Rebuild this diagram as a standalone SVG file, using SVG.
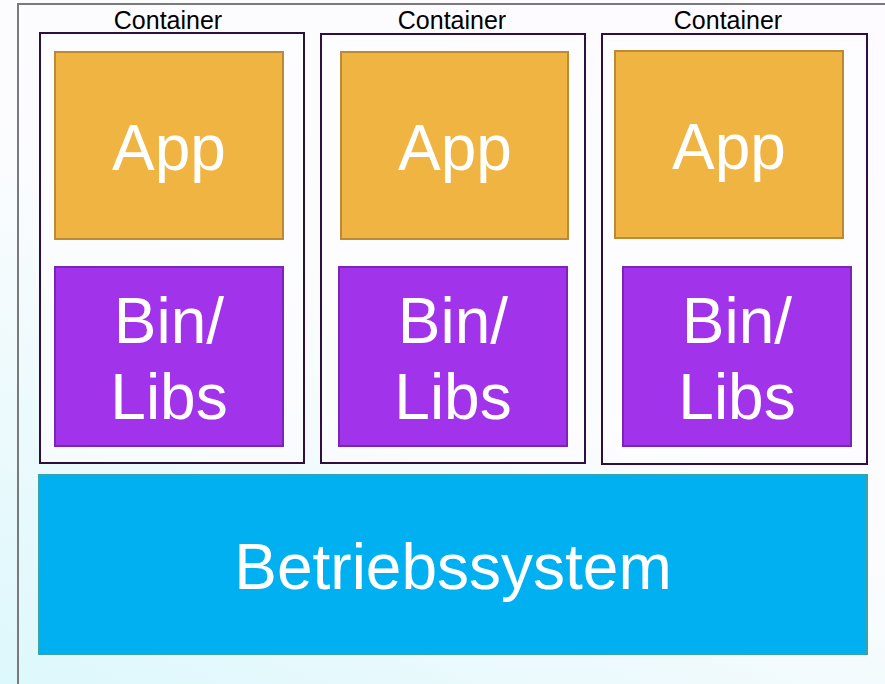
<svg xmlns="http://www.w3.org/2000/svg" width="885" height="684" viewBox="0 0 885 684">
<defs>
<linearGradient id="bg" x1="0" y1="1" x2="0.6" y2="0">
<stop offset="0" stop-color="#ddf8fc"/>
<stop offset="0.6" stop-color="#fcfcfe"/>
<stop offset="1" stop-color="#fdfbff"/>
</linearGradient>
</defs>
<style>
.cont{fill:#fefeff;fill-opacity:0.6;stroke:#2e0f3d;stroke-width:2}
.app{fill:#efb441;stroke:#bb8a32;stroke-width:2}
.bin{fill:#a133ea;stroke:#7a25b5;stroke-width:2}
.os{fill:#00b0f0;stroke:#3aa3a8;stroke-width:2}
.lbl{font-family:"Liberation Sans",Arial,sans-serif;fill:#000;font-size:25px;text-anchor:middle}
.big{font-family:"Liberation Sans",Arial,sans-serif;fill:#fff;font-size:64px;text-anchor:middle}
</style>
<rect x="0" y="0" width="885" height="684" fill="url(#bg)"/>
<rect x="18" y="4" width="880" height="700" fill="none" stroke="#7a7a7a" stroke-width="2"/>
<g id="container1">
<text class="lbl" x="168" y="29">Container</text>
<rect class="cont" x="40" y="33" width="264" height="430"/>
<g id="app1"><rect class="app" x="55" y="52" width="228" height="187"/><text class="big" x="169" y="170">App</text></g>
<g id="bin1"><rect class="bin" x="55" y="267" width="228" height="179"/><text class="big" x="169" y="343">Bin/</text><text class="big" x="169" y="419">Libs</text></g>
</g>
<g id="container2">
<text class="lbl" x="452" y="29">Container</text>
<rect class="cont" x="321" y="34" width="264" height="429"/>
<g id="app2"><rect class="app" x="341" y="52" width="227" height="187"/><text class="big" x="455" y="170">App</text></g>
<g id="bin2"><rect class="bin" x="339" y="267" width="228" height="179"/><text class="big" x="453" y="343">Bin/</text><text class="big" x="453" y="419">Libs</text></g>
</g>
<g id="container3">
<text class="lbl" x="728" y="29">Container</text>
<rect class="cont" x="602" y="34" width="265" height="430"/>
<g id="app3"><rect class="app" x="615" y="51" width="228" height="187"/><text class="big" x="729" y="169">App</text></g>
<g id="bin3"><rect class="bin" x="623" y="267" width="228" height="179"/><text class="big" x="737" y="343">Bin/</text><text class="big" x="737" y="419">Libs</text></g>
</g>
<g id="os"><rect class="os" x="39" y="475" width="828" height="179"/><text class="big" x="453" y="589">Betriebssystem</text></g>
<g id="connectors"></g>
</svg>
